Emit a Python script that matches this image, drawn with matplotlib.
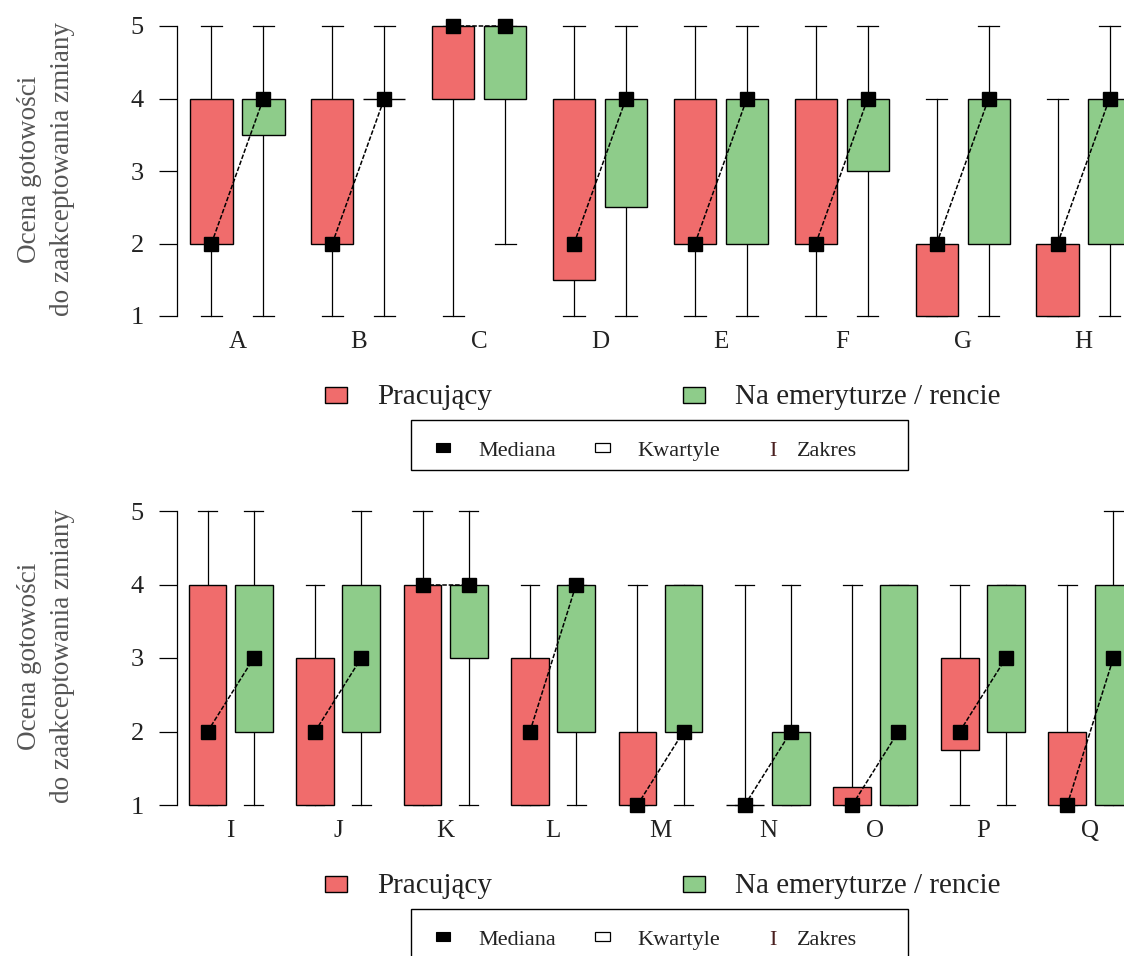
import matplotlib
matplotlib.use("Agg")
import matplotlib.pyplot as plt
from matplotlib.patches import Rectangle

plt.rcParams["font.family"] = ["Liberation Serif", "DejaVu Serif"]

# --- data (values on a 1-5 scale) ---
cats_top = ["A", "B", "C", "D", "E", "F", "G", "H"]
work_lo_top = [1, 1, 1, 1, 1, 1, 1, 1]
work_q1_top = [2, 2, 4, 1.5, 2, 2, 1, 1]
work_med_top = [2, 2, 5, 2, 2, 2, 2, 2]
work_q3_top = [4, 4, 5, 4, 4, 4, 2, 2]
work_hi_top = [5, 5, 5, 5, 5, 5, 4, 4]
ret_lo_top = [1, 1, 2, 1, 1, 1, 1, 1]
ret_q1_top = [3.5, 4, 4, 2.5, 2, 3, 2, 2]
ret_med_top = [4, 4, 5, 4, 4, 4, 4, 4]
ret_q3_top = [4, 4, 5, 4, 4, 4, 4, 4]
ret_hi_top = [5, 5, 5, 5, 5, 5, 5, 5]

cats_bot = ["I", "J", "K", "L", "M", "N", "O", "P", "Q"]
work_lo_bot = [1, 1, 1, 1, 1, 1, 1, 1, 1]
work_q1_bot = [1, 1, 1, 1, 1, 1, 1, 1.75, 1]
work_med_bot = [2, 2, 4, 2, 1, 1, 1, 2, 1]
work_q3_bot = [4, 3, 4, 3, 2, 1, 1.25, 3, 2]
work_hi_bot = [5, 4, 5, 4, 4, 4, 4, 4, 4]
ret_lo_bot = [1, 1, 1, 1, 1, 1, 1, 1, 1]
ret_q1_bot = [2, 2, 3, 2, 2, 1, 1, 2, 1]
ret_med_bot = [3, 3, 4, 4, 2, 2, 2, 3, 3]
ret_q3_bot = [4, 4, 4, 4, 4, 2, 4, 4, 4]
ret_hi_bot = [5, 5, 5, 4, 4, 4, 4, 4, 5]

group_labels = ["Pracujący", "Na emeryturze / rencie"]
y_label = "Ocena gotowości\ndo zaakceptowania zmiany"

RED = "#F06C6C"
GREEN = "#8ECC8A"
OFFSET = 0.215
BOX_W = 0.35
CAP_W = BOX_W / 2

W, H = 1124, 956


def fx(px):
    return px / W


def fy(py):
    return 1 - py / H


def draw_series(ax, xs, lo, q1, q3, hi, color):
    for x, a, b, c, d in zip(xs, lo, q1, q3, hi):
        ax.plot([x, x], [a, d], color="black", lw=0.9, zorder=1, clip_on=False)
        for yv in (a, d):
            ax.plot([x - CAP_W / 2, x + CAP_W / 2], [yv, yv], color="black",
                    lw=0.9, zorder=1, clip_on=False)
        ax.add_patch(Rectangle((x - BOX_W / 2, b), BOX_W, c - b, facecolor=color,
                               edgecolor="black", lw=1.0, zorder=2, clip_on=False))


def draw_panel(ax, cats, work, ret):
    n = len(cats)
    centers = list(range(1, n + 1))
    xw = [c - OFFSET for c in centers]
    xr = [c + OFFSET for c in centers]
    draw_series(ax, xw, work[0], work[1], work[3], work[4], RED)
    draw_series(ax, xr, ret[0], ret[1], ret[3], ret[4], GREEN)
    for a, b, ma, mb in zip(xw, xr, work[2], ret[2]):
        ax.plot([a, b], [ma, mb], color="black", lw=1.1, ls=(0, (3, 1.2)),
                zorder=3, clip_on=False)
    ax.plot(xw, work[2], ls="none", marker="s", ms=9.5, color="black", zorder=4, clip_on=False)
    ax.plot(xr, ret[2], ls="none", marker="s", ms=9.5, color="black", zorder=4, clip_on=False)

    ax.set_xlim(0.5, n + 0.5)
    ax.set_ylim(1, 5)
    ax.set_xticks(centers)
    ax.set_xticklabels(cats)
    ax.set_yticks([1, 2, 3, 4, 5])
    for side in ("top", "right", "bottom"):
        ax.spines[side].set_visible(False)
    ax.spines["left"].set_linewidth(0.9)
    ax.tick_params(axis="x", length=0, pad=11, labelsize=18, labelcolor="#222222")
    ax.tick_params(axis="y", direction="out", length=13, width=0.9, pad=11,
                   labelsize=19, labelcolor="#222222")
    ax.patch.set_visible(False)


def draw_legends(fig, off):
    for (x0, color), label, tx in zip([(325, RED), (683, GREEN)], group_labels, [377, 735]):
        fig.add_artist(Rectangle((fx(x0), fy(403 + off)), 22 / W, 16 / H,
                                 facecolor=color, edgecolor="black", lw=1.0,
                                 transform=fig.transFigure))
        fig.text(fx(tx), fy(404 + off), label, fontsize=21, va="baseline",
                 color="#222222")

    fig.add_artist(Rectangle((fx(411), fy(470 + off)), 497 / W, 50 / H, fill=False,
                             edgecolor="black", lw=1.0, transform=fig.transFigure))
    fig.add_artist(Rectangle((fx(436), fy(452 + off)), 14 / W, 9 / H, facecolor="black",
                             edgecolor="black", lw=0.8, transform=fig.transFigure))
    fig.add_artist(Rectangle((fx(595), fy(452 + off)), 15 / W, 9 / H, facecolor="white",
                             edgecolor="black", lw=0.9, transform=fig.transFigure))
    fig.text(fx(478), fy(456 + off), "Mediana", fontsize=16, va="baseline", color="#222222")
    fig.text(fx(637), fy(456 + off), "Kwartyle", fontsize=16, va="baseline", color="#222222")
    fig.text(fx(769), fy(456 + off), "I", fontsize=16, va="baseline", color="#4a2020")
    fig.text(fx(797), fy(456 + off), "Zakres", fontsize=16, va="baseline", color="#222222")


fig = plt.figure(figsize=(W / 100, H / 100), dpi=100)

ax1 = fig.add_axes([fx(177), fy(316), 967 / W, (316 - 26) / H])
draw_panel(ax1, cats_top,
           (work_lo_top, work_q1_top, work_med_top, work_q3_top, work_hi_top),
           (ret_lo_top, ret_q1_top, ret_med_top, ret_q3_top, ret_hi_top))

ax2 = fig.add_axes([fx(177), fy(805), 967 / W, (805 - 511) / H])
draw_panel(ax2, cats_bot,
           (work_lo_bot, work_q1_bot, work_med_bot, work_q3_bot, work_hi_bot),
           (ret_lo_bot, ret_q1_bot, ret_med_bot, ret_q3_bot, ret_hi_bot))

for yc in (169, 656):
    fig.text(fx(46), fy(yc), y_label, rotation=90, ha="center", va="center",
             multialignment="center", fontsize=19.5, color="#555555", linespacing=1.45)

draw_legends(fig, 0)
draw_legends(fig, 489)

fig.savefig("out.png", dpi=100)
